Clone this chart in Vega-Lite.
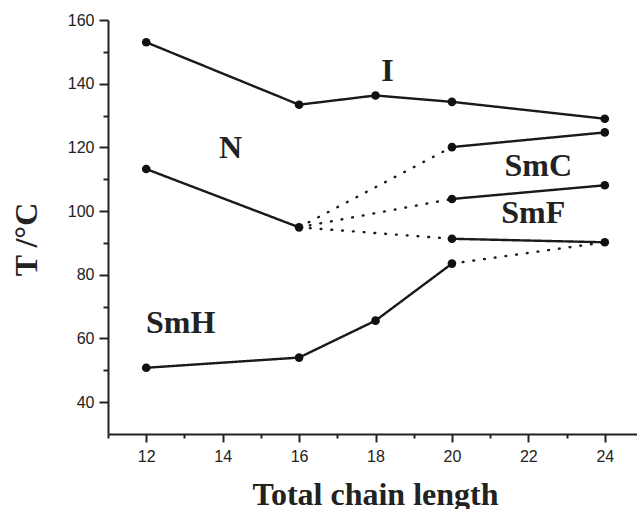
{
  "$schema": "https://vega.github.io/schema/vega-lite/v6.json",
  "autosize": "none",
  "width": 535,
  "height": 414,
  "padding": {"left": 108, "top": 20, "right": 0, "bottom": 75},
  "background": "white",
  "config": {"view": {"stroke": null}},
  "datasets": {
    "lines": [
      {"seg": "I", "style": "solid", "n": 12, "t": 153.0},
      {"seg": "I", "style": "solid", "n": 16, "t": 133.4},
      {"seg": "I", "style": "solid", "n": 18, "t": 136.3},
      {"seg": "I", "style": "solid", "n": 20, "t": 134.3},
      {"seg": "I", "style": "solid", "n": 24, "t": 129.0},
      {"seg": "N", "style": "solid", "n": 12, "t": 113.2},
      {"seg": "N", "style": "solid", "n": 16, "t": 94.9},
      {"seg": "Cd", "style": "dot", "n": 16, "t": 94.9},
      {"seg": "Cd", "style": "dot", "n": 20, "t": 120.1},
      {"seg": "C", "style": "solid", "n": 20, "t": 120.1},
      {"seg": "C", "style": "solid", "n": 24, "t": 124.7},
      {"seg": "Fd", "style": "dot", "n": 16, "t": 94.9},
      {"seg": "Fd", "style": "dot", "n": 20, "t": 103.8},
      {"seg": "F", "style": "solid", "n": 20, "t": 103.8},
      {"seg": "F", "style": "solid", "n": 24, "t": 108.1},
      {"seg": "Ld", "style": "dot", "n": 16, "t": 94.9},
      {"seg": "Ld", "style": "dot", "n": 20, "t": 91.3},
      {"seg": "L", "style": "solid", "n": 20, "t": 91.3},
      {"seg": "L", "style": "solid", "n": 24, "t": 90.2},
      {"seg": "H", "style": "solid", "n": 12, "t": 50.8},
      {"seg": "H", "style": "solid", "n": 16, "t": 54.0},
      {"seg": "H", "style": "solid", "n": 18, "t": 65.6},
      {"seg": "H", "style": "solid", "n": 20, "t": 83.5},
      {"seg": "Hd", "style": "dot", "n": 20, "t": 83.5},
      {"seg": "Hd", "style": "dot", "n": 24, "t": 90.2}
    ],
    "points": [
      {"n": 12, "t": 153.0}, {"n": 16, "t": 133.4}, {"n": 18, "t": 136.3}, {"n": 20, "t": 134.3}, {"n": 24, "t": 129.0},
      {"n": 12, "t": 113.2}, {"n": 16, "t": 94.9},
      {"n": 20, "t": 120.1}, {"n": 24, "t": 124.7},
      {"n": 20, "t": 103.8}, {"n": 24, "t": 108.1},
      {"n": 20, "t": 91.3}, {"n": 24, "t": 90.2},
      {"n": 12, "t": 50.8}, {"n": 16, "t": 54.0}, {"n": 18, "t": 65.6}, {"n": 20, "t": 83.5}
    ],
    "labels": [
      {"label": "I", "n": 18.31, "t": 140.9},
      {"label": "N", "n": 14.21, "t": 116.6},
      {"label": "SmC", "n": 22.26, "t": 110.9},
      {"label": "SmF", "n": 22.13, "t": 96.3},
      {"label": "SmH", "n": 12.9, "t": 61.8}
    ]
  },
  "encoding": {
    "x": {
      "field": "n", "type": "quantitative",
      "scale": {"domain": [11, 25], "nice": false, "zero": false},
      "axis": {
        "title": "Total chain length",
        "values": [11, 12, 13, 14, 15, 16, 17, 18, 19, 20, 21, 22, 23, 24, 25],
        "labelExpr": "datum.value % 2 === 0 ? datum.label : ''",
        "tickSize": {"condition": {"test": "datum.value % 2 === 0", "value": 8}, "value": 4},
        "tickWidth": 2, "tickColor": "#222", "domainColor": "#222", "domainWidth": 2,
        "grid": false,
        "labelFont": "Liberation Sans", "labelFontSize": 16, "labelColor": "#222", "labelPadding": 6,
        "titleFont": "Liberation Serif", "titleFontSize": 32, "titleFontWeight": "bold", "titleColor": "#222",
        "titleX": 267, "titleY": 70, "titleBaseline": "alphabetic", "titleAlign": "center"
      }
    },
    "y": {
      "field": "t", "type": "quantitative",
      "scale": {"domain": [30, 160], "nice": false, "zero": false},
      "axis": {
        "title": "T /°C",
        "values": [40, 50, 60, 70, 80, 90, 100, 110, 120, 130, 140, 150, 160],
        "labelExpr": "datum.value % 20 === 0 ? datum.label : ''",
        "tickSize": {"condition": {"test": "datum.value % 20 === 0", "value": 9}, "value": 5},
        "tickWidth": 2, "tickColor": "#222", "domainColor": "#222", "domainWidth": 2,
        "grid": false,
        "labelFont": "Liberation Sans", "labelFontSize": 16, "labelColor": "#222", "labelPadding": 5,
        "titleFont": "Liberation Serif", "titleFontSize": 32, "titleFontWeight": "bold", "titleColor": "#222",
        "titleX": -82, "titleY": 219, "titleAngle": 270, "titleAlign": "center", "titleBaseline": "middle"
      }
    }
  },
  "layer": [
    {
      "data": {"name": "lines"},
      "mark": {"type": "line", "color": "#1a1a1a", "strokeWidth": 2.4, "strokeCap": "round"},
      "encoding": {
        "detail": {"field": "seg", "type": "nominal"},
        "strokeDash": {"field": "style", "type": "nominal", "scale": {"domain": ["solid", "dot"], "range": [[1, 0], [0.8, 10]]}, "legend": null}
      }
    },
    {
      "data": {"name": "points"},
      "mark": {"type": "point", "filled": true, "shape": "circle", "color": "#111", "size": 75, "opacity": 1}
    },
    {
      "data": {"name": "labels"},
      "mark": {"type": "text", "font": "Liberation Serif", "fontSize": 32, "fontWeight": "bold", "color": "#222", "align": "center", "baseline": "alphabetic"},
      "encoding": {"text": {"field": "label"}}
    }
  ]
}
